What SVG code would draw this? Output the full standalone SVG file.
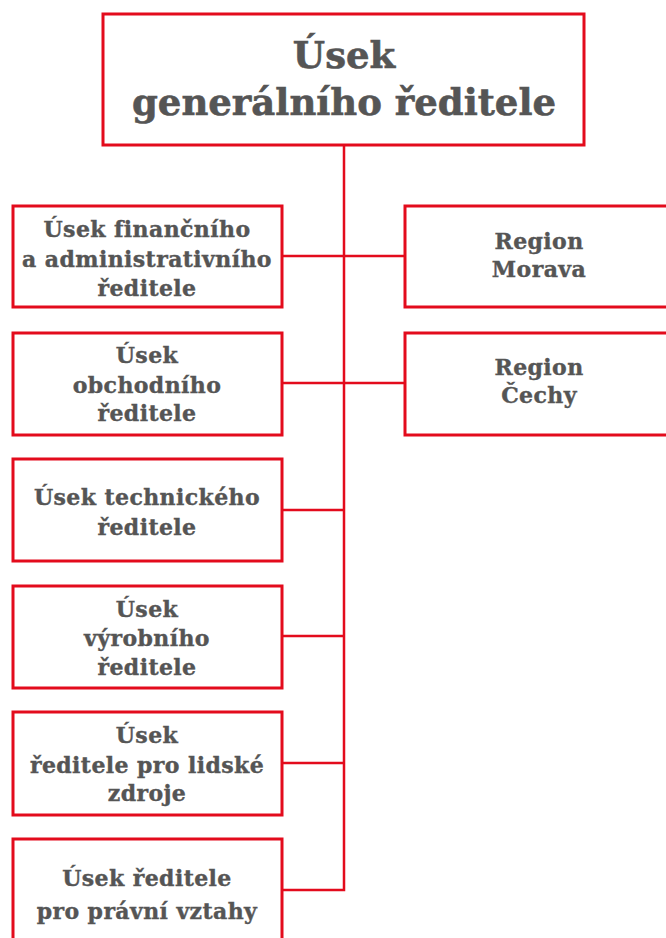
<svg xmlns="http://www.w3.org/2000/svg" width="666" height="938" viewBox="0 0 666 938">
  <style>
    .box { fill: #ffffff; stroke: #e30b1c; stroke-width: 3; }
    .wire { fill: none; stroke: #e30b1c; stroke-width: 2.5; }
    .t { font-family: "DejaVu Serif", "Liberation Serif", serif; font-weight: bold; fill: #555555; stroke: #555555; stroke-width: 0.4; text-anchor: middle; }
    .s { font-size: 22px; letter-spacing: 0.4px; }
    .h { font-size: 37px; stroke-width: 0.6; }
  </style>

  <g id="connectors">
    <path class="wire" d="M344 146 V890 H283"/>
    <path class="wire" d="M283 256 H405 M283 383 H405 M283 510 H344 M283 636 H344 M283 763 H344"/>
  </g>

  <g id="general">
    <rect class="box" x="103" y="14" width="481" height="131"/>
    <text class="t h" x="344" y="68">Úsek</text>
    <text class="t h" x="344" y="115">generálního ředitele</text>
  </g>

  <g id="financial">
    <rect class="box" x="13" y="206" width="269" height="101"/>
    <text class="t s" x="147" y="237">Úsek finančního</text>
    <text class="t s" x="147" y="267">a administrativního</text>
    <text class="t s" x="147" y="296">ředitele</text>
  </g>

  <g id="commercial">
    <rect class="box" x="13" y="333" width="269" height="102"/>
    <text class="t s" x="147" y="363">Úsek</text>
    <text class="t s" x="147" y="393">obchodního</text>
    <text class="t s" x="147" y="421">ředitele</text>
  </g>

  <g id="technical">
    <rect class="box" x="13" y="459" width="269" height="102"/>
    <text class="t s" x="147" y="505">Úsek technického</text>
    <text class="t s" x="147" y="535">ředitele</text>
  </g>

  <g id="production">
    <rect class="box" x="13" y="586" width="269" height="102"/>
    <text class="t s" x="147" y="617">Úsek</text>
    <text class="t s" x="147" y="646">výrobního</text>
    <text class="t s" x="147" y="675">ředitele</text>
  </g>

  <g id="hr">
    <rect class="box" x="13" y="712" width="269" height="103"/>
    <text class="t s" x="147" y="743">Úsek</text>
    <text class="t s" x="147" y="773">ředitele pro lidské</text>
    <text class="t s" x="147" y="801">zdroje</text>
  </g>

  <g id="legal">
    <rect class="box" x="13" y="839" width="269" height="110"/>
    <text class="t s" x="147" y="886">Úsek ředitele</text>
    <text class="t s" x="147" y="919">pro právní vztahy</text>
  </g>

  <g id="region-morava">
    <rect class="box" x="405" y="206" width="280" height="101"/>
    <text class="t s" x="539" y="249">Region</text>
    <text class="t s" x="539" y="277">Morava</text>
  </g>

  <g id="region-cechy">
    <rect class="box" x="405" y="333" width="280" height="102"/>
    <text class="t s" x="539" y="375">Region</text>
    <text class="t s" x="539" y="403">Čechy</text>
  </g>
</svg>
